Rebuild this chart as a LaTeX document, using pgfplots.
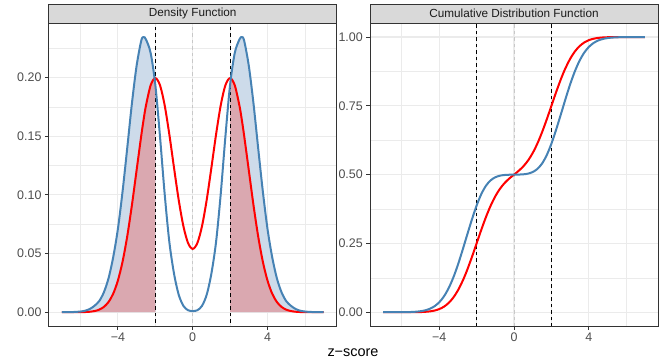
\documentclass[border=0pt]{standalone}
\usepackage{fontspec}
\setmainfont{Liberation Sans}
\usepackage{pgfplots}
\usepackage{pgfplotstable}
\pgfplotsset{compat=1.18}

\definecolor{steel}{RGB}{70,130,180}
\definecolor{redline}{RGB}{255,0,0}
\definecolor{bfill}{RGB}{205,219,234}
\definecolor{rfill}{RGB}{218,168,176}
\definecolor{gridc}{RGB}{235,235,235}
\definecolor{grey20}{RGB}{51,51,51}
\definecolor{grey30}{RGB}{77,77,77}
\definecolor{grey10}{RGB}{26,26,26}
\definecolor{grey85}{RGB}{217,217,217}
\definecolor{zeroc}{RGB}{200,200,200}

% x, density (blue, red), cumulative (blue, red)
\pgfplotstableread{
x      bpdf     rpdf      bcdf     rcdf
-7     0        0         0        0
-6.75  0.00003  0.000003  0        0
-6.5   0.0001   0.000008  0.00002  0.000002
-6.25  0.0003   0.000024  0.00007  0.000005
-6     0.0006   0.000067  0.00018  0.000016
-5.75  0.0013   0.000177  0.00041  0.000044
-5.5   0.0028   0.000437  0.0009   0.000117
-5.25  0.0055   0.001015  0.00191  0.000289
-5     0.0095   0.002216  0.00373  0.000675
-4.75  0.017    0.004547  0.00695  0.00149
-4.5   0.029    0.008764  0.01253  0.003105
-4.25  0.047    0.01587   0.02175  0.006112
-4     0.071    0.027     0.03606  0.01138
-3.75  0.103    0.04314   0.05717  0.02003
-3.5   0.140    0.06476   0.08665  0.0334
-3.25  0.178    0.09133   0.12522  0.05283
-3     0.210    0.12099   0.17229  0.07933
-2.75  0.2315   0.15057   0.22585  0.11332
-2.625 0.2345   0.16413   0.25412  0.133
-2.5   0.2325   0.17604   0.28214  0.15427
-2.25  0.221    0.19336   0.33716  0.20066
-2     0.194    0.19954   0.3875   0.25002
-1.75  0.150    0.19351   0.42923  0.2994
-1.5   0.101    0.17647   0.45968  0.34585
-1.25  0.060    0.15158   0.47921  0.38698
-1     0.033    0.1232    0.49049  0.42135
-0.75  0.015    0.09587   0.49631  0.44867
-0.5   0.0055   0.07352   0.4988   0.4697
-0.25  0.0017   0.05901   0.49967  0.48608
0      0.001    0.05399   0.5      0.5
0.25   0.0017   0.05901   0.50033  0.51392
0.5    0.0055   0.07352   0.5012   0.5303
0.75   0.015    0.09587   0.50369  0.55133
1      0.033    0.1232    0.50951  0.57865
1.25   0.060    0.15158   0.52079  0.61302
1.5    0.101    0.17647   0.54032  0.65415
1.75   0.150    0.19351   0.57077  0.7006
2      0.194    0.19954   0.6125   0.74998
2.25   0.221    0.19336   0.66284  0.79934
2.5    0.2325   0.17604   0.71786  0.84573
2.625  0.2345   0.16413   0.74588  0.867
2.75   0.2315   0.15057   0.77415  0.88668
3      0.210    0.12099   0.82771  0.92067
3.25   0.178    0.09133   0.87478  0.94717
3.5    0.140    0.06476   0.91335  0.9666
3.75   0.103    0.04314   0.94283  0.97997
4      0.071    0.027     0.96394  0.98862
4.25   0.047    0.01587   0.97825  0.99389
4.5    0.029    0.008764  0.98747  0.9969
4.75   0.017    0.004547  0.99305  0.99851
5      0.0095   0.002216  0.99627  0.99933
5.25   0.0055   0.001015  0.99809  0.99971
5.5    0.0028   0.000437  0.9991   0.99988
5.75   0.0013   0.000177  0.99959  0.99996
6      0.0006   0.000067  0.99982  0.99998
6.25   0.0003   0.000024  0.99993  1
6.5    0.0001   0.000008  0.99998  1
6.75   0.00003  0.000003  1        1
7      0        0         1        1
}\dist

\pgfplotsset{
  facet/.style={
    scale only axis, width=288bp, height=302.7bp,
    anchor=south west,
    xmin=-7.7, xmax=7.7,
    xtick={-4,0,4}, xticklabels={−4,0,4},
    minor xtick={-6,-2,2,6},
    grid=both,
    major grid style={draw=gridc, line width=1.2bp},
    minor grid style={draw=gridc, line width=0.6bp},
    tick pos=left, tick align=outside,
    major tick length=3.7bp, minor tick length=0pt,
    axis line style={draw=grey20, line width=0.9bp},
    major tick style={draw=grey20, line width=0.9bp},
    tick label style={font=\fontsize{12.5}{13}\selectfont, text=grey30},
  },
  vline/.style={black, line width=0.8bp, dash pattern=on 3.5bp off 3bp},
  zline/.style={zeroc, line width=0.8bp, dash pattern=on 3.5bp off 3bp},
}

\begin{document}
\begin{tikzpicture}
\path[use as bounding box] (0,0) rectangle (664bp,363bp);

\begin{axis}[facet, name=L, at={(48.7bp,37bp)},
  ymin=-0.01173, ymax=0.24623,
  ytick={0,0.05,0.1,0.15,0.2}, yticklabels={0.00,0.05,0.10,0.15,0.20},
  minor ytick={0.025,0.075,0.125,0.175,0.225}]
\addplot[fill=bfill, draw=none, smooth, restrict x to domain=-7:-2] table[x=x,y=bpdf]{\dist} \closedcycle;
\addplot[fill=bfill, draw=none, smooth, restrict x to domain=2:7] table[x=x,y=bpdf]{\dist} \closedcycle;
\addplot[fill=rfill, draw=none, smooth, restrict x to domain=-7:-2] table[x=x,y=rpdf]{\dist} \closedcycle;
\addplot[fill=rfill, draw=none, smooth, restrict x to domain=2:7] table[x=x,y=rpdf]{\dist} \closedcycle;
\addplot[zline] coordinates {(0,-0.02) (0,0.26)};
\addplot[vline] coordinates {(-2,-0.02) (-2,0.26)};
\addplot[vline] coordinates {(2,-0.02) (2,0.26)};
\addplot[redline, line width=2bp, smooth] table[x=x,y=rpdf]{\dist};
\addplot[steel, line width=2bp, smooth] table[x=x,y=bpdf]{\dist};
\end{axis}

\begin{axis}[facet, name=R, at={(370bp,37bp)},
  ymin=-0.05, ymax=1.05,
  ytick={0,0.25,0.5,0.75,1}, yticklabels={0.00,0.25,0.50,0.75,1.00},
  minor ytick={0.125,0.375,0.625,0.875}]
\addplot[zline] coordinates {(0,-0.1) (0,1.1)};
\addplot[vline] coordinates {(-2,-0.1) (-2,1.1)};
\addplot[vline] coordinates {(2,-0.1) (2,1.1)};
\addplot[redline, line width=2bp, smooth] table[x=x,y=rcdf]{\dist};
\addplot[steel, line width=2bp, smooth] table[x=x,y=bcdf]{\dist};
\end{axis}

\foreach \p/\t in {L/Density Function, R/Cumulative Distribution Function}{
  \draw[fill=grey85, draw=grey20, line width=0.9bp] (\p.north west) rectangle ([yshift=19bp]\p.north east);
  \node[font=\fontsize{11.8}{12}\selectfont, text=grey10] at ([yshift=9.5bp]\p.north) {\t};
}
\node[font=\fontsize{14.5}{15}\selectfont, anchor=base] at (353bp,6.5bp) {z−score};
\end{tikzpicture}
\end{document}
